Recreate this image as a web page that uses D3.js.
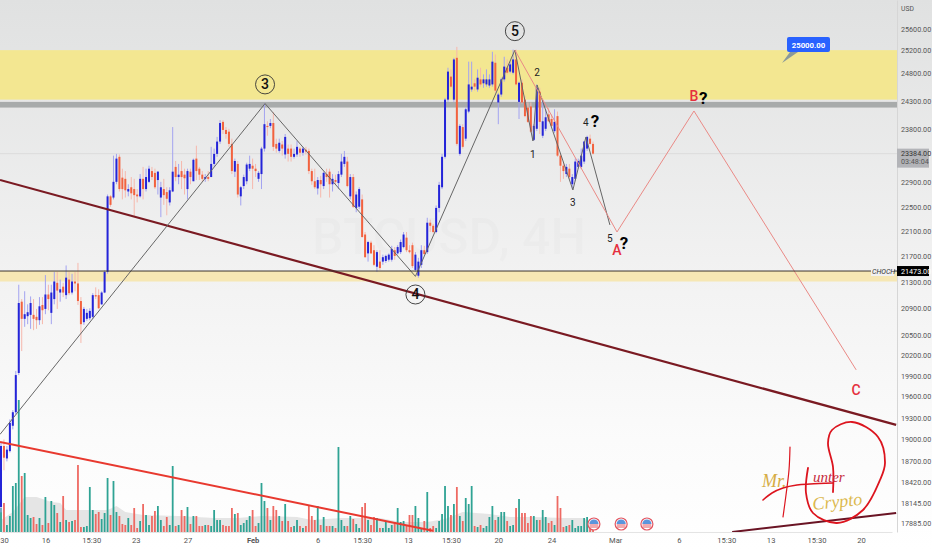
<!DOCTYPE html>
<html>
<head>
<meta charset="utf-8">
<style>
  html, body { margin: 0; padding: 0; background: #fff; overflow: hidden; }
  svg { display: block; font-family: Roboto, "Noto Sans", sans-serif; }
</style>
<script src="https://cdnjs.cloudflare.com/ajax/libs/d3/7.8.5/d3.min.js"></script>
</head>
<body>
<div id="chart"></div>
<script>
// candles, 4h bars
const opens = [18090,18910,18740,18840,19190,19380,19940,21000,20740,20780,20800,20800,20770,20720,20950,20890,21110,20830,21040,21290,21140,21230,21100,21340,21140,21310,21280,21010,20690,20740,20750,20770,21100,21100,20960,21140,21460,22670,22650,22910,23330,22980,22960,22750,22820,22790,22700,22670,22960,22790,22910,23090,23060,22940,22650,22790,22740,22570,22750,23160,22990,23090,23030,22790,23080,22920,23300,23130,23030,22960,22990,22990,23210,23380,23590,23930,23790,23760,23550,23080,23210,22670,22840,22920,23130,23180,23130,22960,23040,23470,23860,23860,23910,23550,23430,23540,23370,23470,23470,23330,23370,23470,23400,23450,23430,23090,22920,22800,22940,22840,23040,23080,22870,22940,22890,23030,23210,23250,22670,22990,22480,22500,22620,22050,21750,21920,21800,21540,21620,21620,21630,21650,21650,21800,21750,21770,21850,22000,21800,21880,21490,21400,21570,21800,21770,22240,22190,22090,22480,22820,23330,24320,24730,24320,25070,23380,23840,23640,24110,24500,24610,24500,24680,24610,24590,24570,24590,24980,24270,24410,24680,24890,24820,24800,25040,24280,24620,24320,24180,24200,23620,23810,24460,23690,23810,24060,23980,23770,24030,23350,23180,23040,23130,22870,22960,23160,23160,23250,23470,23640,23550];
const highs = [18960,19000,18910,19280,19410,19970,21260,21040,21160,20960,21080,21040,20890,21070,21070,21410,21260,21260,21460,21460,21340,21290,21560,21460,21430,21460,21600,21070,20920,20890,20900,21130,21220,21190,21160,21480,22700,22690,23350,23380,23370,23130,23090,22870,22990,22960,22790,23040,23160,23130,23180,23160,23130,23090,22910,22960,22820,22820,23840,23260,23210,23260,23130,23130,23130,23300,23520,23160,23090,23040,23090,23500,23470,23670,23960,23960,23840,23810,23640,23300,23260,22840,23030,23230,23350,23300,23210,23090,23500,24250,23940,23980,24100,23640,23640,23600,23720,23540,23540,23470,23600,23500,23500,23500,23470,23130,23130,22990,23010,23080,23130,23130,23040,23030,23090,23380,23430,23330,23040,23040,22750,22820,22700,22090,21950,21950,21880,21800,21800,21730,21730,21750,21870,21850,21880,21970,22090,22090,21880,21920,21770,21680,21880,21870,22320,22290,22220,22520,22910,23380,24350,24890,24860,25070,25270,23890,23890,24180,25000,25000,24680,24860,24890,24770,24860,24770,25180,25130,24440,24710,25090,25040,25000,25220,25220,24640,24680,24390,24270,24270,23890,24590,24530,24320,24150,24180,24060,24150,24110,23380,23250,23210,23210,23040,23300,23300,23470,23600,23690,23710,23590];
const lows = [18020,18580,18700,18820,19140,19350,19910,20260,20620,20660,20590,20570,20590,20650,20660,20810,20870,20660,20960,20890,21000,21070,21040,21100,21110,21160,20950,20380,20650,20710,20720,20740,21040,20890,20950,21130,21430,22500,22620,22870,22750,22620,22650,22670,22620,22350,22570,22650,22620,22750,22890,22940,22790,22700,22330,22530,22360,22520,22740,22920,22870,22790,22700,22620,22870,22920,22940,22940,22910,22910,22920,22990,23160,23330,23550,23720,23640,23500,23040,22990,22650,22520,22790,22870,23090,22790,22990,22910,22790,23420,23690,23820,23430,23400,23400,23350,23300,23250,23250,23300,23330,23330,23350,23370,23040,22860,22790,22700,22650,22790,22910,22650,22750,22870,22790,22990,23160,22820,22620,22480,22410,22460,22000,21680,21620,21740,21550,21460,21490,21570,21600,21620,21620,21650,21730,21740,21830,21770,21750,21520,21460,21370,21520,21710,21740,22090,22070,22070,22410,22790,23300,24280,24530,24280,23520,23350,23470,23600,24080,24460,24480,24460,24550,24530,24550,24530,24550,24440,23890,24370,24640,24770,24790,24770,24570,23980,24250,24010,23910,23740,23600,23770,23720,23650,23770,23930,23840,23740,23330,22910,22960,22990,22960,22790,22920,23130,23130,23210,23430,23540,23370];
const closes = [18910,18750,18860,19230,19380,19910,20980,20740,20810,20840,20980,20740,20720,20930,20870,21110,21040,21140,21310,21170,21190,21140,21370,21130,21310,21280,21010,20660,20890,20830,20860,21100,21080,20900,21140,21460,22670,22530,22910,23300,22790,22790,22770,22790,22720,22690,22670,22960,22790,22990,23130,22990,22820,23080,22820,22690,22630,22770,23080,22990,23030,22990,22970,23090,22990,23280,23090,23030,22960,22990,22960,23210,23380,23590,23910,23790,23720,23550,23090,23260,22700,22820,22990,23200,23210,23130,23090,23060,23470,23890,23840,23910,23500,23470,23570,23470,23670,23380,23330,23380,23500,23400,23470,23420,23090,22920,22820,22940,22870,23060,22990,22870,22960,22910,23040,23250,23330,22840,22990,22500,22700,22790,22010,21690,21930,21750,21570,21770,21520,21690,21710,21730,21820,21710,21850,21930,22050,21800,21770,21550,21730,21620,21800,21740,22240,22190,22090,22480,22860,23330,24320,24820,24550,25040,23550,23860,23500,24150,24590,24550,24550,24710,24590,24680,24680,24680,25000,24480,24410,24680,24910,24800,24950,25040,24590,24620,24270,24030,23930,23760,23860,24530,23930,23940,24010,23940,23860,23930,23350,23180,23090,23160,22990,22990,23250,23260,23350,23590,23670,23550,23384];
const volumes = [24,29,7,16,46,49,132,56,59,17,14,15,8,14,7,35,9,31,27,19,10,36,12,10,11,12,67,5,5,6,45,22,18,20,13,19,54,17,51,20,16,8,7,14,7,24,4,11,28,17,7,16,21,26,12,6,15,7,66,6,7,22,16,25,8,16,16,6,6,7,7,6,22,12,12,7,6,6,24,18,19,7,9,12,16,22,6,9,49,31,24,12,26,22,16,11,28,11,5,6,12,6,4,6,27,16,12,26,7,15,6,6,6,4,85,12,6,6,16,13,8,4,25,29,12,7,15,14,4,4,11,4,7,10,24,10,11,6,17,17,26,14,4,11,40,4,6,4,11,18,46,26,17,28,45,16,11,34,28,46,6,5,7,4,6,15,26,12,15,20,20,11,6,7,24,33,19,19,9,16,16,12,12,22,15,9,11,7,36,24,5,6,7,12,4,6,6,14,15,6,4];

// volume moving average
const volMaBars = [0,4,8,12,17,20,22,30,36,39,42,48,60,72,80,88,100,105,115,128,135,144,150,156,165,172,180,190,197,200];
const volMaValues = [12,20,35,35,30,29,22,22,22,26,20,17,16,14,14,16,15,12,14,14,10,10,13,20,18,15,15,14,14,5];

// axes
const priceTicks = [25600,25200,24800,24300,23800,22900,22500,22100,21700,21300,20900,20500,20200,19900,19600,19300,19000,18700,18420,18145,17885];
const timeTickBars = [1,15,30.5,45.5,63,85,107,122,137.5,152,168,186,207.5,229,245,260,275.5,290.5];
const timeTickLabels = ["30","16","15:30","23","27","Feb","6","15:30","13","15:30","20","24","Mar","6","15:30","13","15:30","20"];

// wave drawings, bar number and price
const blackWaveBars = [-0.34,89.2,140,173.6,179.7,181.1,193.2,197.6,205.7];
const blackWavePrices = [19070,24250,21390,25210,23600,24580,22775,23669,22204];
const redWaveBars = [173.6,208.1,234.1,288.9];
const redWavePrices = [25210,22091,24120,19985];

// trend lines
const maroonTopBars = [-0.34,302.4];
const maroonTopPrices = [22941,19202];
const maroonLowBars = [247,302.4];
const maroonLowPrices = [17765,18013];
const redTrendBars = [-0.34,145.9];
const redTrendPrices = [18966,17780];

// zones
const yellowZone = [25210,24320];
const greyZone = [24280,24180];
const beigeZone = [21473,21310];
const chochPrice = 21473;
const lastPrice = 23384;
const alertPrice = 25000;

// labels on the waves
const circleLabels = ["3","5","4"];
const circleBars = [89.2,173.6,140];
const circlePrices = [24590,25560,21110];
const waveLabels = ["2","1","3","4","5"];
const waveLabelBars = [181.1,179.7,193.2,197.6,205.7];
const waveLabelPrices = [24820,23380,22580,23930,21995];
const questionBars = [200.7,210.5,237.2];
const questionPrices = [23950,21920,24350];
const redLabels = ["A","B","C"];
const redLabelBars = [208.1,234.1,288.9];
const redLabelPrices = [21803,24390,19696];
const flagBars = [200.3,209.5,218.2];

const width = 932, height = 550;
const plotRight = 897, plotBottom = 532;

const svg = d3.select("#chart").append("svg")
    .attr("width", width)
    .attr("height", height);

const x = d3.scaleLinear().domain([0, 301]).range([1, 892]);
const y = d3.scaleLog().domain([26145, 17765]).range([0, plotBottom]);
const yVol = d3.scaleLinear().domain([0, 132]).range([plotBottom, 400]);

// background
const grad = svg.append("defs").append("linearGradient")
    .attr("id", "bg").attr("x1", 0).attr("x2", 0).attr("y1", 0).attr("y2", 1);
grad.append("stop").attr("offset", "0%").attr("stop-color", "#e0e1e1");
grad.append("stop").attr("offset", "50%").attr("stop-color", "#f2f2f2");
grad.append("stop").attr("offset", "80%").attr("stop-color", "#fbfbfb");
grad.append("stop").attr("offset", "100%").attr("stop-color", "#ffffff");
svg.append("rect").attr("width", width).attr("height", height).attr("fill", "url(#bg)");

function zone(range, color) {
    svg.append("rect")
        .attr("x", 0).attr("width", plotRight)
        .attr("y", y(range[0]))
        .attr("height", y(range[1]) - y(range[0]))
        .attr("fill", color);
}
zone(yellowZone, "#f3e791");
zone(greyZone, "#a8abab");
zone(beigeZone, "#f6e7b4");

// last price line
svg.append("line")
    .attr("x1", 0).attr("x2", plotRight)
    .attr("y1", y(lastPrice)).attr("y2", y(lastPrice))
    .attr("stroke", "#dcdcdc").attr("stroke-width", 1);

// watermark
svg.append("text")
    .attr("x", 449).attr("y", 254)
    .attr("text-anchor", "middle")
    .attr("font-size", 50)
    .attr("font-weight", 500)
    .attr("fill", "rgba(0,0,0,0.014)")
    .text("BTCUSD, 4H");
svg.append("text")
    .attr("x", 449).attr("y", 318)
    .attr("text-anchor", "middle")
    .attr("font-size", 16)
    .attr("fill", "rgba(0,0,0,0.016)")
    .text("Bitcoin / U.S. Dollar");

// volume
const isUp = i => closes[i] >= opens[i];

svg.append("path")
    .datum(volMaBars.map((b, i) => [b, volMaValues[i]]))
    .attr("fill", "#dcdcdc")
    .attr("fill-opacity", 0.75)
    .attr("d", d3.area()
        .x(d => x(d[0]))
        .y0(yVol(0))
        .y1(d => yVol(d[1])));

svg.append("g").selectAll("rect")
    .data(volumes)
    .join("rect")
    .attr("x", (d, i) => x(i) - 0.9)
    .attr("width", 1.8)
    .attr("y", d => yVol(d))
    .attr("height", d => yVol(0) - yVol(d))
    .attr("fill", (d, i) => isUp(i) ? "#2fa394" : "#ee6a63");

// candles
const candles = svg.append("g");
candles.selectAll("line")
    .data(closes)
    .join("line")
    .attr("x1", (d, i) => x(i))
    .attr("x2", (d, i) => x(i))
    .attr("y1", (d, i) => y(highs[i]))
    .attr("y2", (d, i) => y(lows[i]))
    .attr("stroke", (d, i) => isUp(i) ? "#a3a3f0" : "#f6b8ac")
    .attr("stroke-width", 1);
candles.selectAll("rect")
    .data(closes)
    .join("rect")
    .attr("x", (d, i) => x(i) - 1)
    .attr("width", 2)
    .attr("y", (d, i) => Math.min(y(opens[i]), y(closes[i])))
    .attr("height", (d, i) => Math.max(1, Math.abs(y(opens[i]) - y(closes[i]))))
    .attr("fill", (d, i) => isUp(i) ? "#2424d8" : "#f2623f");

// drawings
function drawLine(bars, prices, color, w) {
    svg.append("path")
        .datum(bars.map((b, i) => [b, prices[i]]))
        .attr("fill", "none")
        .attr("stroke", color)
        .attr("stroke-width", w)
        .attr("d", d3.line().x(d => x(d[0])).y(d => y(d[1])));
}
drawLine(redTrendBars, redTrendPrices, "#e8392f", 2);
drawLine(maroonTopBars, maroonTopPrices, "#7a1a22", 2.2);
drawLine(maroonLowBars, maroonLowPrices, "#6a1424", 2);
drawLine(blackWaveBars, blackWavePrices, "#666", 1);
drawLine(redWaveBars, redWavePrices, "#ea8a86", 1);

// CHOCH line and its label
svg.append("line")
    .attr("x1", 0).attr("x2", plotRight)
    .attr("y1", y(chochPrice)).attr("y2", y(chochPrice))
    .attr("stroke", "#3a3430").attr("stroke-width", 1);
svg.append("rect")
    .attr("x", 871).attr("width", 23)
    .attr("y", y(chochPrice) - 5).attr("height", 10)
    .attr("fill", "#f1f1f1");
svg.append("text")
    .attr("x", 872).attr("y", y(chochPrice) + 2.5)
    .attr("font-size", 7).attr("font-style", "italic").attr("fill", "#333")
    .text("CHOCH");

// wave labels
circleLabels.forEach((t, i) => {
    svg.append("circle")
        .attr("cx", x(circleBars[i])).attr("cy", y(circlePrices[i])).attr("r", 9.5)
        .attr("fill", "none").attr("stroke", "#333").attr("stroke-width", 0.9);
    svg.append("text")
        .attr("x", x(circleBars[i])).attr("y", y(circlePrices[i]) + 5)
        .attr("text-anchor", "middle")
        .attr("font-size", 14).attr("font-weight", 500).attr("fill", "#111")
        .text(t);
});
waveLabels.forEach((t, i) => {
    svg.append("text")
        .attr("x", x(waveLabelBars[i])).attr("y", y(waveLabelPrices[i]) + 4)
        .attr("text-anchor", "middle")
        .attr("font-size", 10).attr("fill", "#222")
        .text(t);
});
questionBars.forEach((b, i) => {
    svg.append("text")
        .attr("x", x(b)).attr("y", y(questionPrices[i]) + 6)
        .attr("text-anchor", "middle")
        .attr("font-size", 17).attr("font-weight", 700).attr("fill", "#000")
        .text("?");
});
redLabels.forEach((t, i) => {
    svg.append("text")
        .attr("x", x(redLabelBars[i])).attr("y", y(redLabelPrices[i]) + 5)
        .attr("text-anchor", "middle")
        .attr("font-size", 14).attr("font-weight", 500).attr("fill", "#e5303f")
        .text(t);
});

// calendar flags
flagBars.forEach(b => {
    const g = svg.append("g").attr("transform", `translate(${x(b)},524)`);
    g.append("circle").attr("r", 6).attr("fill", "#fff").attr("stroke", "#e2545f").attr("stroke-width", 1.2);
    [1, 3].forEach(dy => g.append("line")
        .attr("x1", -4.4).attr("x2", 4.4).attr("y1", dy).attr("y2", dy)
        .attr("stroke", "#e2545f").attr("stroke-width", 1));
    g.append("path").attr("d", "M-4.6,0 A4.6,4.6 0 0 1 4.6,0 Z").attr("fill", "#5b95dc");
});

// signature
const curve = d3.line().curve(d3.curveCatmullRom);
const sig = svg.append("g").attr("fill", "none").attr("stroke", "#dc141e").attr("stroke-linecap", "round");
sig.append("path").attr("stroke-width", 1.2)
    .attr("d", curve([[790,447],[789,470],[786,495],[783,517]]));
sig.append("path").attr("stroke-width", 1.6)
    .attr("d", curve([[763,500],[772,493],[783,488],[797,485],[810,484],[833,483]]));
sig.append("path").attr("stroke-width", 1.8)
    .attr("d", curve([[808,468],[806,493],[813,513],[837,523],[863,510],[880,480],[885,463],[878,437],[852,422],[832,430],[828,443],[833,467],[833,492]]));
svg.append("text")
    .attr("x", 762).attr("y", 487)
    .attr("font-family", "'Liberation Serif', serif").attr("font-style", "italic")
    .attr("font-size", 18).attr("fill", "#d6ad45")
    .text("Mr.");
svg.append("text")
    .attr("x", 813).attr("y", 482)
    .attr("font-family", "'Liberation Serif', serif").attr("font-style", "italic")
    .attr("font-size", 15).attr("fill", "#c62a3c")
    .text("unter");
svg.append("text")
    .attr("transform", "translate(813,510) rotate(-6)")
    .attr("font-family", "'Liberation Serif', serif").attr("font-style", "italic")
    .attr("font-size", 18).attr("fill", "#dcb94f")
    .text("Crypto");

// axes
const yAxis = d3.axisRight(y)
    .tickValues(priceTicks)
    .tickFormat(d3.format(".2f"))
    .tickSize(0)
    .tickPadding(4);
const yAxisGroup = svg.append("g")
    .attr("transform", `translate(${plotRight},0)`)
    .call(yAxis);
yAxisGroup.select(".domain").attr("stroke", "#d6d6d6");
yAxisGroup.selectAll("text").attr("font-size", 7.2).attr("fill", "#555").attr("font-family", "Roboto, sans-serif");

const xAxis = d3.axisBottom(x)
    .tickValues(timeTickBars)
    .tickFormat((d, i) => timeTickLabels[i])
    .tickSize(0)
    .tickPadding(6);
const xAxisGroup = svg.append("g")
    .attr("transform", `translate(0,${plotBottom})`)
    .call(xAxis);
xAxisGroup.select(".domain").attr("stroke", "#e4e4e4");
xAxisGroup.selectAll("text")
    .attr("font-size", 7.6).attr("fill", "#555").attr("font-family", "Roboto, sans-serif")
    .attr("font-weight", (d, i) => timeTickLabels[i] === "Feb" ? 700 : 400);

svg.append("text")
    .attr("x", 901).attr("y", 11)
    .attr("font-size", 6.8).attr("fill", "#555")
    .text("USD");

// price tags on the axis
svg.append("rect")
    .attr("x", plotRight).attr("width", 32)
    .attr("y", y(lastPrice) - 5).attr("height", 19)
    .attr("fill", "#b3b4b8");
svg.append("text")
    .attr("x", 901).attr("y", y(lastPrice) + 2)
    .attr("font-size", 7.2).attr("fill", "#333")
    .text(d3.format(".2f")(lastPrice));
svg.append("text")
    .attr("x", 901).attr("y", y(lastPrice) + 10.5)
    .attr("font-size", 7.2).attr("fill", "#555")
    .text("03:48:04");
svg.append("rect")
    .attr("x", plotRight).attr("width", 32)
    .attr("y", y(chochPrice) - 5).attr("height", 10)
    .attr("fill", "#000");
svg.append("text")
    .attr("x", 901).attr("y", y(chochPrice) + 2.5)
    .attr("font-size", 7.2).attr("fill", "#fff")
    .text(d3.format(".2f")(chochPrice));

// alert callout
svg.append("path")
    .attr("d", "M790,52 L798,52 L782,63 Z")
    .attr("fill", "#8b9a9a");
svg.append("rect")
    .attr("x", 787).attr("y", 37).attr("width", 43).attr("height", 15).attr("rx", 2)
    .attr("fill", "#2962ff");
svg.append("text")
    .attr("x", 808.5).attr("y", 47.5)
    .attr("text-anchor", "middle")
    .attr("font-size", 7.8).attr("font-weight", 700).attr("fill", "#fff")
    .text(d3.format(".2f")(alertPrice));
</script>
</body>
</html>
